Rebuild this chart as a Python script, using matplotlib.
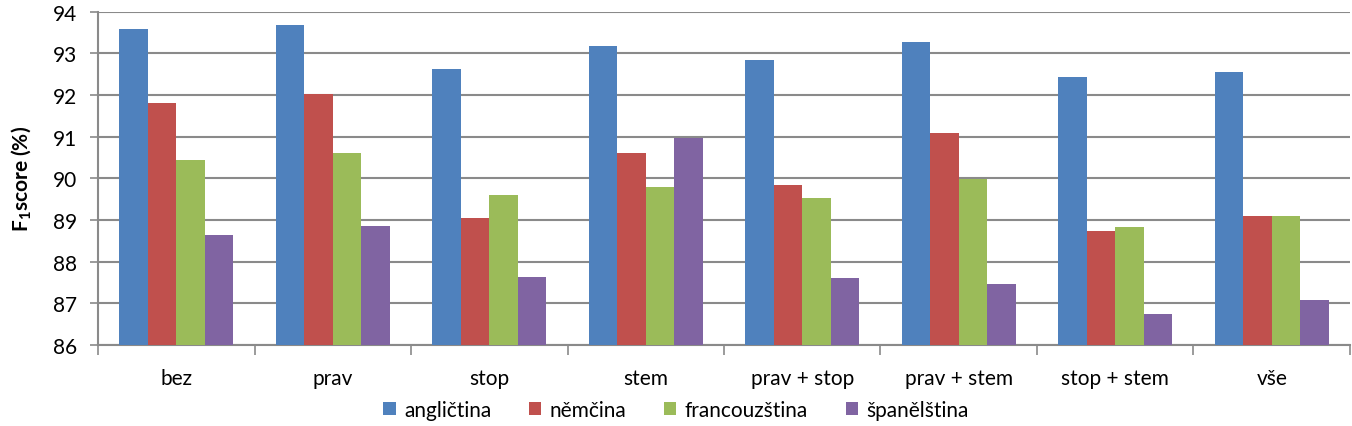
import numpy as np
import matplotlib
matplotlib.use('Agg')
import matplotlib.pyplot as plt

plt.rcParams['font.family'] = ['Lato', 'DejaVu Sans']
plt.rcParams['mathtext.fontset'] = 'custom'
plt.rcParams['mathtext.bf'] = 'Lato:bold'
plt.rcParams['mathtext.rm'] = 'Lato'

categories = ['bez', 'prav', 'stop', 'stem', 'prav + stop',
              'prav + stem', 'stop + stem', 'vše']
series_names = ['angličtina', 'němčina', 'francouzština', 'španělština']
anglictina = [93.59, 93.68, 92.62, 93.19, 92.84, 93.27, 92.44, 92.56]
nemcina = [91.82, 92.03, 89.05, 90.61, 89.84, 91.09, 88.73, 89.09]
francouzstina = [90.44, 90.60, 89.60, 89.79, 89.53, 89.99, 88.82, 89.09]
spanelstina = [88.63, 88.86, 87.64, 90.96, 87.60, 87.47, 86.75, 87.07]
colors = ['#4F81BD', '#C0504D', '#9BBB59', '#8064A2']

fig = plt.figure(figsize=(13.52, 4.27), dpi=100)
ax = fig.add_axes([0.0725, 0.19, 0.926, 0.78])

x = np.arange(len(categories))
w = 1 / 5.5
data = [anglictina, nemcina, francouzstina, spanelstina]
for i, vals in enumerate(data):
    ax.bar(x + (i - 1.5) * w, np.array(vals) - 86, bottom=86, width=w,
           color=colors[i], label=series_names[i], zorder=3)

ax.set_ylim(86, 94)
ax.set_xlim(-0.5, len(categories) - 0.5)
ax.set_yticks(range(86, 95))
ax.yaxis.grid(True, color='#8a8a8a', linewidth=1.5, zorder=0)
ax.tick_params(axis='y', length=6, width=1.2, color='#8a8a8a',
               labelsize=15, pad=9)

ax.set_xticks(np.arange(-0.5, len(categories), 1))
ax.set_xticklabels([])
ax.set_xticks(x, minor=True)
ax.set_xticklabels(categories, minor=True)
ax.tick_params(axis='x', which='major', length=7, width=1.2, color='#8a8a8a')
ax.tick_params(axis='x', which='minor', length=0, labelsize=15, pad=17)

for s in ['top', 'right']:
    ax.spines[s].set_visible(False)
for s in ['left', 'bottom']:
    ax.spines[s].set_color('#8a8a8a')
    ax.spines[s].set_linewidth(1.5)

ax.set_ylabel(r'$\mathbf{F_1}$score (%)', fontsize=15, fontweight='bold',
              labelpad=14)

fig.legend(loc='lower center', bbox_to_anchor=(0.5, -0.03), ncol=4,
           frameon=False, fontsize=15, handlelength=0.6, handleheight=0.6,
           handletextpad=0.4, columnspacing=1.8)

fig.savefig('out.png', dpi=100)
